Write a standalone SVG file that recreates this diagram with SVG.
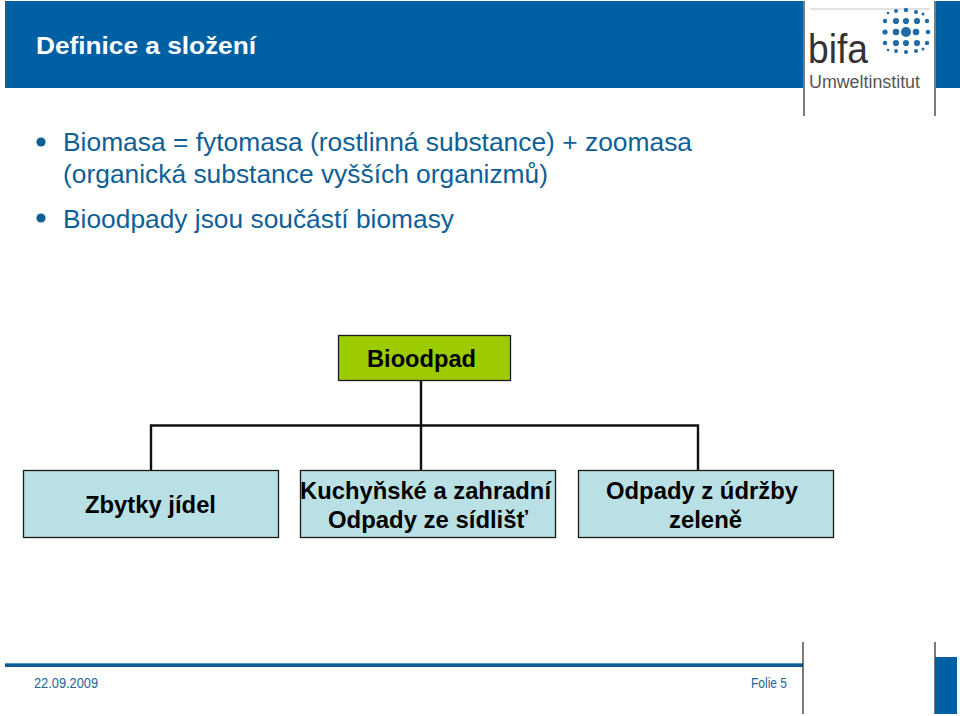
<svg xmlns="http://www.w3.org/2000/svg" width="960" height="716" viewBox="0 0 960 716">
<style>
text{font-family:"Liberation Sans",Arial,sans-serif}
.b{font-size:25.4px;fill:#0f5f97}
.n{font-size:24px;font-weight:bold;fill:#000}
.box{fill:#b9e0e5;stroke:#1a1a1a;stroke-width:1.3}
.c{stroke:#111;stroke-width:2.4;fill:none}
.v{stroke:#333;stroke-width:1.3}
.dot{fill:#1f6ca6}
</style>
<rect width="960" height="716" fill="#fff"/>
<g id="header">
<rect x="5" y="1" width="798" height="87" fill="#0060a4"/>
<rect x="936" y="1" width="24" height="87" fill="#0060a4"/>
<text x="36" y="54" font-size="24" font-weight="bold" fill="#fff" textLength="220" lengthAdjust="spacingAndGlyphs">Definice a složení</text>
</g>
<g id="logo">
<line class="v" x1="804" y1="1" x2="804" y2="116"/>
<line class="v" x1="935" y1="1" x2="935" y2="116"/>
<line x1="810" y1="9" x2="930" y2="9" stroke="#c4c4c4" stroke-width="1"/>
<text x="808" y="63" font-size="41" fill="#333" textLength="60" lengthAdjust="spacingAndGlyphs">bifa</text>
<text x="809" y="88" font-size="18" fill="#555" textLength="111" lengthAdjust="spacingAndGlyphs">Umweltinstitut</text>
<g class="dot">
<circle cx="906" cy="32" r="5"/>
<circle cx="896" cy="32" r="3.3"/><circle cx="916" cy="32" r="3.3"/>
<circle cx="885" cy="32" r="2.6"/><circle cx="928" cy="32" r="2.3"/>
<circle cx="896" cy="21" r="3.1"/><circle cx="906" cy="21" r="3.1"/><circle cx="917" cy="21" r="3.1"/>
<circle cx="885" cy="21" r="2.2"/><circle cx="927" cy="21" r="2.2"/>
<circle cx="896" cy="43" r="3.1"/><circle cx="906" cy="43" r="3.1"/><circle cx="917" cy="43" r="3.1"/>
<circle cx="885" cy="43" r="2.2"/><circle cx="927" cy="43" r="2.2"/>
<circle cx="896" cy="11" r="1.9"/><circle cx="906" cy="10" r="2.2"/><circle cx="916" cy="12" r="2"/><circle cx="923" cy="14" r="1.5"/>
<circle cx="896" cy="51" r="1.9"/><circle cx="906" cy="52" r="2.1"/><circle cx="916" cy="51" r="2"/><circle cx="923" cy="49" r="1.5"/>
<circle cx="888" cy="13" r="1.3"/><circle cx="888" cy="50" r="1.3"/>
</g>
</g>
<g id="bullets">
<circle cx="41" cy="142" r="4.6" fill="#0f5f97"/>
<text class="b" x="63" y="151" textLength="629" lengthAdjust="spacingAndGlyphs">Biomasa = fytomasa (rostlinná substance) + zoomasa</text>
<text class="b" x="63" y="183" textLength="485" lengthAdjust="spacingAndGlyphs">(organická substance vyšších organizmů)</text>
<circle cx="41" cy="218" r="4.6" fill="#0f5f97"/>
<text class="b" x="63" y="228" textLength="391" lengthAdjust="spacingAndGlyphs">Bioodpady jsou součástí biomasy</text>
</g>
<g id="connectors">
<path class="c" d="M421 381V470M151 470V425.500H698V470"/>
</g>
<g id="node-bioodpad">
<rect x="338.500" y="335.500" width="172" height="45" fill="#9ccc00" stroke="#1a1a1a" stroke-width="1.3"/>
<text class="n" x="367" y="367" textLength="109" lengthAdjust="spacingAndGlyphs">Bioodpad</text>
</g>
<g id="node-zbytky">
<rect class="box" x="23.500" y="470.500" width="255" height="67"/>
<text class="n" x="85" y="513" textLength="131" lengthAdjust="spacingAndGlyphs">Zbytky jídel</text>
</g>
<g id="node-kuchynske">
<rect class="box" x="300.500" y="470.500" width="255" height="67"/>
<text class="n" x="300" y="499" textLength="251" lengthAdjust="spacingAndGlyphs">Kuchyňské a zahradní</text>
<text class="n" x="328" y="528" textLength="200" lengthAdjust="spacingAndGlyphs">Odpady ze sídlišť</text>
</g>
<g id="node-odpady">
<rect class="box" x="578.500" y="470.500" width="255" height="67"/>
<text class="n" x="606" y="499" textLength="192" lengthAdjust="spacingAndGlyphs">Odpady z údržby</text>
<text class="n" x="669" y="528" textLength="73" lengthAdjust="spacingAndGlyphs">zeleně</text>
</g>
<g id="footer">
<rect x="5" y="663" width="798" height="4" fill="#0f5a8e"/>
<line x1="5" y1="663.500" x2="803" y2="663.500" stroke="#4f95c6" stroke-width="1"/>
<line class="v" x1="803" y1="642" x2="803" y2="714"/>
<line class="v" x1="935" y1="642" x2="935" y2="714"/>
<rect x="935" y="657" width="22" height="57" fill="#0060a4"/>
<text x="34" y="688" font-size="14" fill="#22669c" textLength="64" lengthAdjust="spacingAndGlyphs">22.09.2009</text>
<text x="751" y="688" font-size="14" fill="#22669c" textLength="36" lengthAdjust="spacingAndGlyphs">Folie 5</text>
</g>
</svg>
